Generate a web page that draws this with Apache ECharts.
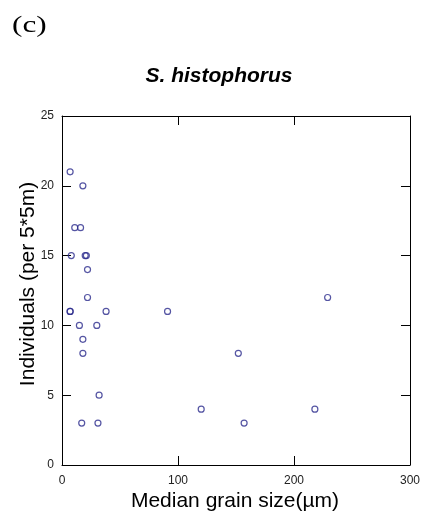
<!DOCTYPE html>
<html><head><meta charset="utf-8">
<script src="https://cdn.jsdelivr.net/npm/echarts@6/dist/echarts.min.js"></script>
<style>html,body{margin:0;padding:0;background:#fff}#c{width:423px;height:515px}</style>
</head><body><div id="c"></div>
<script>
const grainSize = [7, 18, 11, 16, 8, 20, 21, 22, 22, 7, 7, 38, 91, 15, 30, 18, 18, 32, 17, 31, 229, 152, 120, 157, 218];
const individuals = [21, 20, 17, 17, 15, 15, 15, 14, 12, 11, 11, 11, 11, 10, 10, 9, 8, 5, 3, 3, 12, 8, 4, 3, 4];
const xTicks = [0, 100, 200, 300];
const yTicks = [0, 5, 10, 15, 20, 25];

const chart = echarts.init(document.getElementById('c'));
const font = 'Arial, "Liberation Sans", sans-serif';
const tick = {show: true, inside: true, length: 9, lineStyle: {color: '#000', width: 1}};
const line = {show: true, onZero: false, lineStyle: {color: '#000', width: 1}};
chart.setOption({
  animation: false,
  grid: {left: 62, right: 13, top: 116, bottom: 50},
  xAxis: [
    {type: 'value', min: xTicks[0], max: xTicks[xTicks.length-1], interval: 100,
     axisLine: line, axisTick: tick, splitLine: {show: false},
     axisLabel: {color: '#222', fontFamily: font, fontSize: 12, margin: 10}},
    {type: 'value', position: 'top', min: xTicks[0], max: xTicks[xTicks.length-1], interval: 100,
     axisLine: line, axisTick: tick, splitLine: {show: false}, axisLabel: {show: false}}
  ],
  yAxis: [
    {type: 'value', min: yTicks[0], max: yTicks[yTicks.length-1], interval: 5,
     axisLine: line, axisTick: tick, splitLine: {show: false},
     axisLabel: {color: '#222', fontFamily: font, fontSize: 12, margin: 8}},
    {type: 'value', position: 'right', min: yTicks[0], max: yTicks[yTicks.length-1], interval: 5,
     axisLine: line, axisTick: tick, splitLine: {show: false}, axisLabel: {show: false}}
  ],
  series: [{
    type: 'scatter',
    data: grainSize.map((x, i) => [x, individuals[i]]),
    symbol: 'circle', symbolSize: 6,
    itemStyle: {color: 'rgba(255,255,255,0)', borderColor: '#2a2a8c', borderWidth: 1.2}
  }],
  graphic: [
    {type: 'text', x: 12, y: 14, scaleX: 1.3, style: {text: '(c)', font: '24px "Liberation Serif", "Times New Roman", serif', fill: '#000', textVerticalAlign: 'top'}},
    {type: 'text', x: 219, y: 76, style: {text: 'S. histophorus', font: 'italic bold 21px Arial, "Liberation Sans", sans-serif', fill: '#000', textAlign: 'center', textVerticalAlign: 'middle'}},
    {type: 'text', x: 235, y: 501, style: {text: 'Median grain size(µm)', font: '21px Arial, "Liberation Sans", sans-serif', fill: '#000', textAlign: 'center', textVerticalAlign: 'middle'}},
    {type: 'text', x: 28, y: 284, rotation: Math.PI/2, style: {text: 'Individuals (per 5*5m)', font: '21px Arial, "Liberation Sans", sans-serif', fill: '#000', textAlign: 'center', textVerticalAlign: 'middle'}}
  ]
});
</script></body></html>
